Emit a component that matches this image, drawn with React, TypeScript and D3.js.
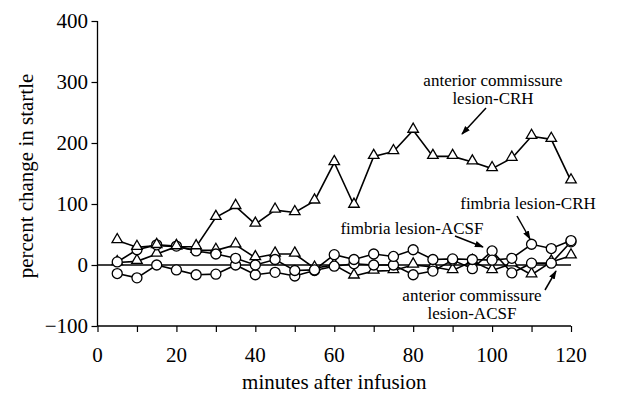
import * as d3 from "d3";
import React, { useEffect, useRef } from "react";

// minutes after infusion
const minutes = [5, 10, 15, 20, 25, 30, 35, 40, 45, 50, 55, 60, 65, 70, 75, 80, 85, 90, 95, 100, 105, 110, 115, 120];

// percent change in startle, per group
const acCRH = [40, 29, 32, 30, 30, 78, 96, 67, 90, 86, 105, 168, 98, 178, 186, 221, 178, 178, 169, 158, 175, 211, 206, 138];
const acACSF = [4, 6, 18, 30, 24, 24, 33, 12, 18, 18, -5, 0, -18, -10, -9, 0, -3, -9, 6, -9, 2, -16, 5, 15];
const fimCRH = [5, 25, 33, 31, 23, 18, 11, 0, 9, -9, -8, 17, 9, 18, 14, 25, 9, 10, 9, 8, 11, 34, 27, 40];
const fimACSF = [-14, -21, 0, -8, -16, -15, 0, -16, -12, -18, -9, -2, 2, 0, 0, -16, -10, 8, -6, 23, -13, 3, 3, 38];

const xTicks = [0, 10, 20, 30, 40, 50, 60, 70, 80, 90, 100, 110, 120];
const xLabels = [0, 20, 40, 60, 80, 100, 120];
const yTicks = [-100, 0, 100, 200, 300, 400];

const FONT = "'Liberation Serif', 'Times New Roman', serif";

const App = () => {
  const ref = useRef<SVGSVGElement>(null);

  useEffect(() => {
    const svg = d3.select(ref.current);
    svg.selectAll("*").remove();

    const x = d3.scaleLinear().domain([0, 120]).range([97.5, 571]);
    const y = d3.scaleLinear().domain([-100, 400]).range([326, 21]);

    // axes
    const xAxis = svg.append("g").attr("transform", `translate(0,${y(-100)})`)
      .call(d3.axisBottom(x).tickValues(xTicks).tickSize(6).tickFormat(() => ""));
    xAxis.select(".domain").attr("stroke-width", 1.3).attr("d", `M${x(0)},0H${x(120)}`);
    xAxis.selectAll(".tick line").attr("stroke-width", 1.2);

    svg.append("g").selectAll("text").data(xLabels).enter().append("text")
      .attr("x", (d) => x(d)).attr("y", 362)
      .attr("text-anchor", "middle")
      .style("font-family", FONT).style("font-size", "21px")
      .text((d) => d);

    const yAxis = svg.append("g").attr("transform", `translate(${x(0)},0)`)
      .call(d3.axisLeft(y).tickValues(yTicks).tickSize(6).tickFormat(() => ""));
    yAxis.select(".domain").attr("stroke-width", 1.3).attr("d", `M0,${y(400)}V${y(-100)}`);
    yAxis.selectAll(".tick line").attr("stroke-width", 1.2);

    svg.append("g").selectAll("text").data(yTicks).enter().append("text")
      .attr("x", 88).attr("y", (d) => y(d) + 7)
      .attr("text-anchor", "end")
      .style("font-family", FONT).style("font-size", "21px")
      .text((d) => (d < 0 ? "\u2212" + Math.abs(d) : d));

    // zero line
    svg.append("line")
      .attr("x1", x(0)).attr("x2", x(120))
      .attr("y1", y(0)).attr("y2", y(0))
      .attr("stroke", "#000").attr("stroke-width", 1.3);

    // titles
    svg.append("text")
      .attr("x", x(60)).attr("y", 389)
      .attr("text-anchor", "middle")
      .style("font-family", FONT).style("font-size", "21px")
      .text("minutes after infusion");

    svg.append("text")
      .attr("transform", "translate(33,176) rotate(-90)")
      .attr("text-anchor", "middle")
      .style("font-family", FONT).style("font-size", "21px")
      .text("percent change in startle");

    const series = [
      { values: acACSF, marker: "triangle" },
      { values: fimACSF, marker: "circle" },
      { values: fimCRH, marker: "circle" },
      { values: acCRH, marker: "triangle" },
    ];

    const line = d3.line<number>()
      .x((d, i) => x(minutes[i]))
      .y((d) => y(d));

    const tri = d3.symbol().type(d3.symbolTriangle).size(48);

    series.forEach((s) => {
      svg.append("path")
        .attr("d", line(s.values))
        .attr("fill", "none")
        .attr("stroke", "#000")
        .attr("stroke-width", 1.6);
    });

    series.forEach((s) => {
      const g = svg.append("g");
      if (s.marker === "circle") {
        g.selectAll("circle").data(s.values).enter().append("circle")
          .attr("cx", (d, i) => x(minutes[i]))
          .attr("cy", (d) => y(d))
          .attr("r", 5)
          .attr("fill", "#fff")
          .attr("stroke", "#000")
          .attr("stroke-width", 1.3);
      } else {
        g.selectAll("path").data(s.values).enter().append("path")
          .attr("d", tri)
          .attr("transform", (d, i) => `translate(${x(minutes[i])},${y(d) - 1})`)
          .attr("fill", "#fff")
          .attr("stroke", "#000")
          .attr("stroke-width", 1.3);
      }
    });

    // annotations
    const defs = svg.append("defs");
    defs.append("marker")
      .attr("id", "head")
      .attr("viewBox", "0 0 10 10")
      .attr("refX", 9).attr("refY", 5)
      .attr("markerWidth", 9).attr("markerHeight", 9)
      .attr("markerUnits", "userSpaceOnUse")
      .attr("orient", "auto")
      .append("path").attr("d", "M0,1.5L10,5L0,8.5Z").attr("fill", "#000");

    const notes = [
      { lines: ["anterior commissure", "lesion-CRH"], cx: 493, cy: 86, arrow: [486, 108, 462, 134] },
      { lines: ["fimbria lesion-CRH"], cx: 528, cy: 209, arrow: [517, 216, 530, 239] },
      { lines: ["fimbria lesion-ACSF"], cx: 412, cy: 234, arrow: [455, 236, 483, 247] },
      { lines: ["anterior commissure", "lesion-ACSF"], cx: 472, cy: 301, arrow: [545, 290, 556, 271] },
    ];

    notes.forEach((n) => {
      n.lines.forEach((t, i) => {
        svg.append("text")
          .attr("x", n.cx).attr("y", n.cy + i * 18)
          .attr("text-anchor", "middle")
          .style("font-family", FONT).style("font-size", "17px")
          .text(t);
      });
      const [x1, y1, x2, y2] = n.arrow;
      svg.append("line")
        .attr("x1", x1).attr("y1", y1).attr("x2", x2).attr("y2", y2)
        .attr("stroke", "#000").attr("stroke-width", 1.5)
        .attr("marker-end", "url(#head)");
    });
  }, []);

  return (
    <svg
      ref={ref}
      width={628}
      height={395}
      style={{ position: "absolute", left: 0, top: 0, background: "#fff" }}
    />
  );
};

export default App;
